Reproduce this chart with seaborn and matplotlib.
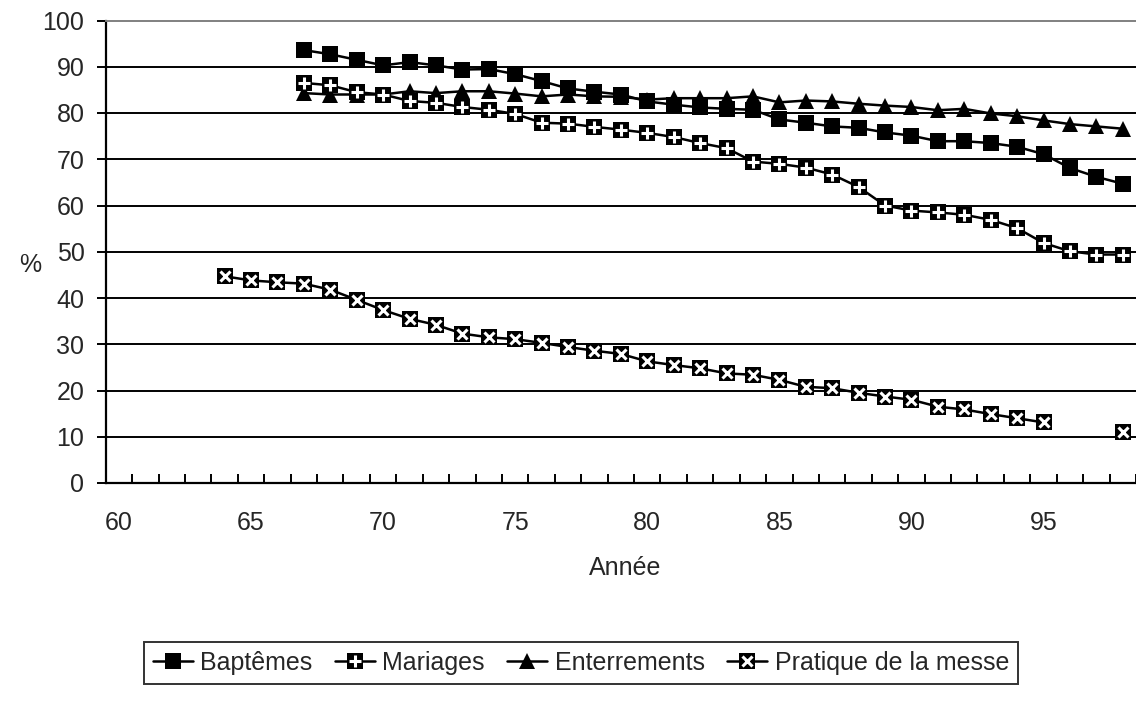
import numpy as np
import pandas as pd
import matplotlib
matplotlib.use("Agg")
import matplotlib.pyplot as plt
from matplotlib.lines import Line2D
import seaborn as sns

# %%
# data (years as 2 digits)
years_bapt = list(range(67, 99))
bapt = [93.6, 92.7, 91.5, 90.3, 91.0, 90.3, 89.4, 89.5, 88.4, 86.9, 85.3, 84.6,
        84.0, 82.5, 81.8, 81.2, 80.9, 80.7, 78.6, 77.9, 77.1, 76.8, 75.8, 75.1,
        73.9, 73.9, 73.5, 72.7, 71.1, 68.1, 66.2, 64.7]

years_mar = list(range(67, 99))
mariages = [86.5, 86.0, 84.5, 84.0, 82.6, 82.2, 81.3, 80.7, 79.8, 77.9, 77.7, 77.0,
            76.4, 75.7, 74.8, 73.5, 72.4, 69.5, 69.0, 68.2, 66.7, 64.0, 60.0, 58.9,
            58.5, 58.0, 56.9, 55.1, 51.9, 50.1, 49.4, 49.4]

years_ent = list(range(67, 99))
enterrements = [84.3, 84.0, 84.0, 84.0, 84.7, 84.3, 84.7, 84.7, 84.2, 83.6, 84.0, 83.6,
                83.5, 82.9, 83.2, 83.2, 83.2, 83.6, 82.3, 82.7, 82.5, 82.0, 81.6, 81.3,
                80.6, 80.9, 79.9, 79.3, 78.4, 77.6, 77.1, 76.6]

# 96 and 97 missing -> line broken
years_messe = list(range(64, 96)) + [98]
messe = [44.7, 43.8, 43.4, 43.1, 41.8, 39.6, 37.4, 35.5, 34.2, 32.3, 31.5, 31.1,
         30.3, 29.4, 28.6, 27.9, 26.3, 25.5, 24.8, 23.7, 23.4, 22.3, 20.8, 20.5,
         19.5, 18.7, 18.0, 16.5, 15.9, 14.9, 14.0, 13.1, 11.1]
messe_seg = [0] * 32 + [1]

labels = ["Baptêmes", "Mariages", "Enterrements", "Pratique de la messe"]
x_tick_labels = [60, 65, 70, 75, 80, 85, 90, 95]
y_ticks = list(range(0, 101, 10))

# %%
sns.set_style("white")
plt.rcParams["font.family"] = ["Liberation Sans", "DejaVu Sans"]
fs = 18

W, H = 1136, 702
fig = plt.figure(figsize=(W / 100, H / 100), dpi=100)
ax = fig.add_axes([105.7 / W, 1 - 483 / H, 1 - 105.7 / W, (483 - 20.5) / H])

ms = 11.5
lw = 1.8

df_b = pd.DataFrame({"year": years_bapt, "val": bapt})
df_m = pd.DataFrame({"year": years_mar, "val": mariages})
df_e = pd.DataFrame({"year": years_ent, "val": enterrements})
df_p = pd.DataFrame({"year": years_messe, "val": messe, "seg": messe_seg})

common = dict(x="year", y="val", color="black", linewidth=lw, markersize=ms,
              markeredgewidth=0, estimator=None, ax=ax, zorder=3)

sns.lineplot(data=df_p, units="seg", marker="s", **common)
ax.plot(df_p["year"], df_p["val"], ls="none", marker="x", color="white",
        ms=ms * 0.62, mew=2.2, zorder=4)

sns.lineplot(data=df_m, marker="s", **common)
ax.plot(df_m["year"], df_m["val"], ls="none", marker="+", color="white",
        ms=ms * 0.75, mew=2.2, zorder=4)

sns.lineplot(data=df_e, marker="^", **common)
sns.lineplot(data=df_b, marker="s", **common)

# axes
ax.set_xlim(59.5, 59.5 + (W - 105.7) / 26.67)
ax.set_ylim(0, 100)
ax.set_xticks(x_tick_labels)
ax.set_xticklabels([str(v) for v in x_tick_labels], fontsize=fs)
ax.set_xticks(np.arange(59.5, 99, 1), minor=True)
ax.tick_params(axis="x", which="major", length=0, pad=20)
ax.tick_params(axis="x", which="minor", direction="in", length=6.7, width=1.4,
               color="black", bottom=True)
ax.set_yticks(y_ticks)
ax.set_yticklabels([str(v) for v in y_ticks], fontsize=fs)
ax.tick_params(axis="y", which="major", direction="out", length=6.3, width=1.4,
               color="black", left=True, pad=9)
ax.set_xlabel("")
ax.set_ylabel("")

for y in y_ticks[1:-1]:
    ax.axhline(y, color="black", lw=1.4, zorder=1)

ax.spines["left"].set_color("black")
ax.spines["left"].set_linewidth(1.6)
ax.spines["bottom"].set_color("black")
ax.spines["bottom"].set_linewidth(1.6)
ax.spines["top"].set_color("#808080")
ax.spines["top"].set_linewidth(1.4)
ax.spines["right"].set_visible(False)

fig.text(30 / W, 1 - 265 / H, "%", fontsize=fs, ha="center", va="center")
fig.text(625 / W, 1 - 575 / H, "Année", fontsize=fs, ha="center", va="baseline")

# legend
h_b = Line2D([], [], color="black", lw=lw, marker="s", ms=ms, mew=0)
h_m = (Line2D([], [], color="black", lw=lw, marker="s", ms=ms, mew=0),
       Line2D([], [], ls="none", marker="+", color="white", ms=ms * 0.75, mew=2.2))
h_e = Line2D([], [], color="black", lw=lw, marker="^", ms=ms, mew=0)
h_p = (Line2D([], [], color="black", lw=lw, marker="s", ms=ms, mew=0),
       Line2D([], [], ls="none", marker="x", color="white", ms=ms * 0.62, mew=2.2))
leg = fig.legend([h_b, h_m, h_e, h_p], labels, loc="center",
                 bbox_to_anchor=(581 / W, 1 - 663 / H), ncol=4, fontsize=fs,
                 frameon=True, fancybox=False, edgecolor="black",
                 handlelength=1.6, handletextpad=0.3, columnspacing=0.9,
                 borderpad=0.35, borderaxespad=0)
leg.get_frame().set_linewidth(1.4)

fig.savefig("out.png", dpi=100, facecolor="white")
